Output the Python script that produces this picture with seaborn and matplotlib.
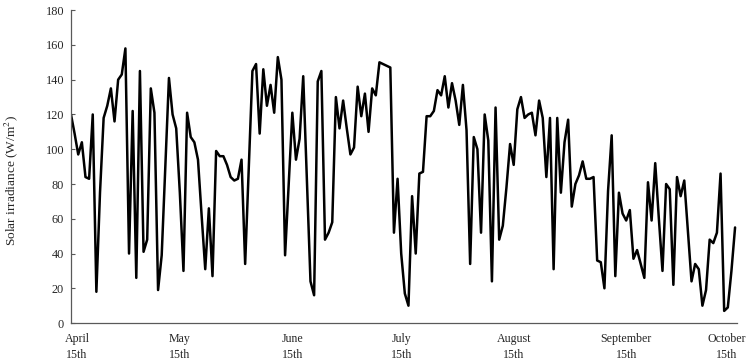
import matplotlib
matplotlib.use('Agg')
import matplotlib.pyplot as plt
import matplotlib.transforms as mtransforms
import numpy as np
import pandas as pd
import seaborn as sns

# daily solar irradiance, 15 April -> 15 October (W/m2)
irradiance = [
    120, 109, 97, 104, 84, 83, 120, 18, 75, 118,
    125, 135, 116, 140, 143, 158, 40, 122, 26, 145,
    41, 48, 135, 121, 19, 39, 90, 141, 120, 112,
    75, 30, 121, 107, 104, 94, 62, 31, 66, 27,
    99, 96, 96, 91, 84, 82, 83, 94, 34, 90,
    145, 149, 109, 146, 125, 137, 121, 153, 140, 39,
    80, 121, 94, 106, 142, 83, 24, 16, 139, 145,
    48, 52, 58, 130, 112, 128, 112, 97, 101, 136,
    119, 132, 110, 135, 131, 150, 149, 148, 147, 52,
    83, 40, 17, 10, 73, 40, 86, 87, 119, 119,
    122, 134, 131, 142, 124, 138, 128, 114, 137, 111,
    34, 107, 100, 52, 120, 105, 24, 124, 48, 56,
    78, 103, 91, 123, 130, 118, 120, 121, 108, 128,
    118, 84, 118, 31, 118, 75, 104, 117, 67, 80,
    85, 93, 83, 83, 84, 36, 35, 20, 76, 108,
    27, 75, 63, 59, 65, 37, 42, 34, 26, 81,
    59, 92, 60, 30, 80, 77, 22, 84, 73, 82,
    53, 24, 34, 31, 10, 19, 48, 46, 52, 86,
    7, 9, 30, 55,
]
start_date = '2019-04-15'
tick_months = ['April', 'May', 'June', 'July', 'August', 'September', 'October']
y_ticks = [0, 20, 40, 60, 80, 100, 120, 140, 160, 180]


def main():
    dates = pd.date_range(start_date, periods=len(irradiance), freq='D')
    df = pd.DataFrame({'day': np.arange(len(irradiance)), 'irradiance': irradiance, 'date': dates})

    # tick at the 15th of every month
    tick_days = df.loc[df['date'].dt.day == 15, 'day'].tolist()
    tick_labels = [f'{m}\n15th' for m in tick_months]

    sns.set_style('ticks')
    plt.rcParams['font.family'] = ['Liberation Serif', 'DejaVu Serif']
    plt.rcParams['mathtext.fontset'] = 'stix'

    fig = plt.figure(figsize=(7.55, 3.63), dpi=100)
    ax = fig.add_axes([0.094, 0.110, 0.882, 0.862])

    sns.lineplot(data=df, x='day', y='irradiance', color='black', lw=1.8, ax=ax)

    ax.set_xlim(0, len(irradiance) - 0.5)
    ax.set_ylim(0, 180)
    ax.set_yticks(y_ticks)
    ax.set_xticks(tick_days)
    ax.set_xticklabels(tick_labels, fontsize=8.6, linespacing=1.45)
    ax.tick_params(axis='x', length=0, pad=7)
    ax.tick_params(axis='y', direction='in', length=3, width=0.8, color='#595959',
                   labelsize=8.8, pad=5)

    # keep the end labels inside the figure like the original
    labels = ax.get_xticklabels()
    labels[0].set_transform(labels[0].get_transform() +
                            mtransforms.ScaledTranslation(0.06, 0, fig.dpi_scale_trans))
    labels[-1].set_transform(labels[-1].get_transform() +
                             mtransforms.ScaledTranslation(-0.08, 0, fig.dpi_scale_trans))

    ax.set_xlabel('')
    ax.set_ylabel('Solar irradiance (W/m$^{2}$)', fontsize=9.6)
    ax.yaxis.set_label_coords(-0.077, 0.454)

    sns.despine(ax=ax)
    for side in ['left', 'bottom']:
        ax.spines[side].set_color('#595959')
        ax.spines[side].set_linewidth(0.9)

    fig.savefig('out.png', dpi=100)
    plt.close(fig)


if __name__ == '__main__':
    main()
